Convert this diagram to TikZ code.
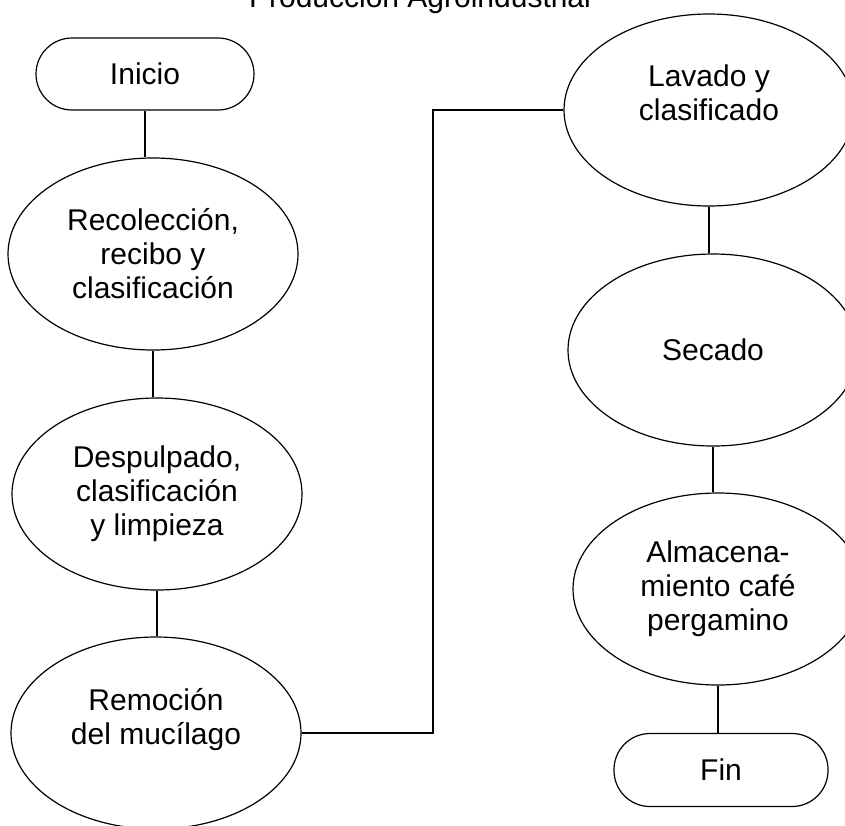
\documentclass[tikz,border=0pt]{standalone}
\usepackage{fontspec}
\setmainfont{Liberation Sans}
\usetikzlibrary{shapes,positioning}

\begin{document}
\begin{tikzpicture}[x=1pt,y=-1pt,line width=1.2pt]
\fontsize{30}{34}\selectfont
\tikzstyle{proc}=[ellipse, draw=black, minimum width=290pt, minimum height=192pt, inner sep=0pt, align=center]
\tikzstyle{term}=[rectangle, rounded corners=36pt, draw=black, minimum width=218pt, minimum height=72pt, align=center]
\useasboundingbox (0,0) rectangle (845,825);
\clip (0,0) rectangle (845,825);
\node[anchor=base] (title) at (420,7) {Producción Agroindustrial};
\node[term] (ini) at (145,74) {Inicio};
\node[term, minimum width=214pt, minimum height=73pt] (fin) at (721,770) {Fin};
\foreach \name/\x/\y/\txt in {rec/153/254/{Recolección,\\recibo y\\clasificación},
                              desp/157/494/{Despulpado,\\clasificación\\y limpieza},
                              rem/156/733/{Remoción\\del mucílago\\~},
                              lav/709/110/{Lavado y\\clasificado\\~},
                              sec/713/350/{Secado},
                              alm/718/589/{Almacena-\\miento café\\pergamino}}
    \node[proc] (\name) at (\x,\y) {\txt};
\coordinate (turn) at (433,0);
\foreach \current/\next in {ini/rec,rec/desp,desp/rem,lav/sec,sec/alm,alm/fin}
    \draw (\current.south) -- (\current.south |- \next.north);
\draw (rem.east) -- (rem.east -| turn) |- (lav.west);
\end{tikzpicture}
\end{document}
